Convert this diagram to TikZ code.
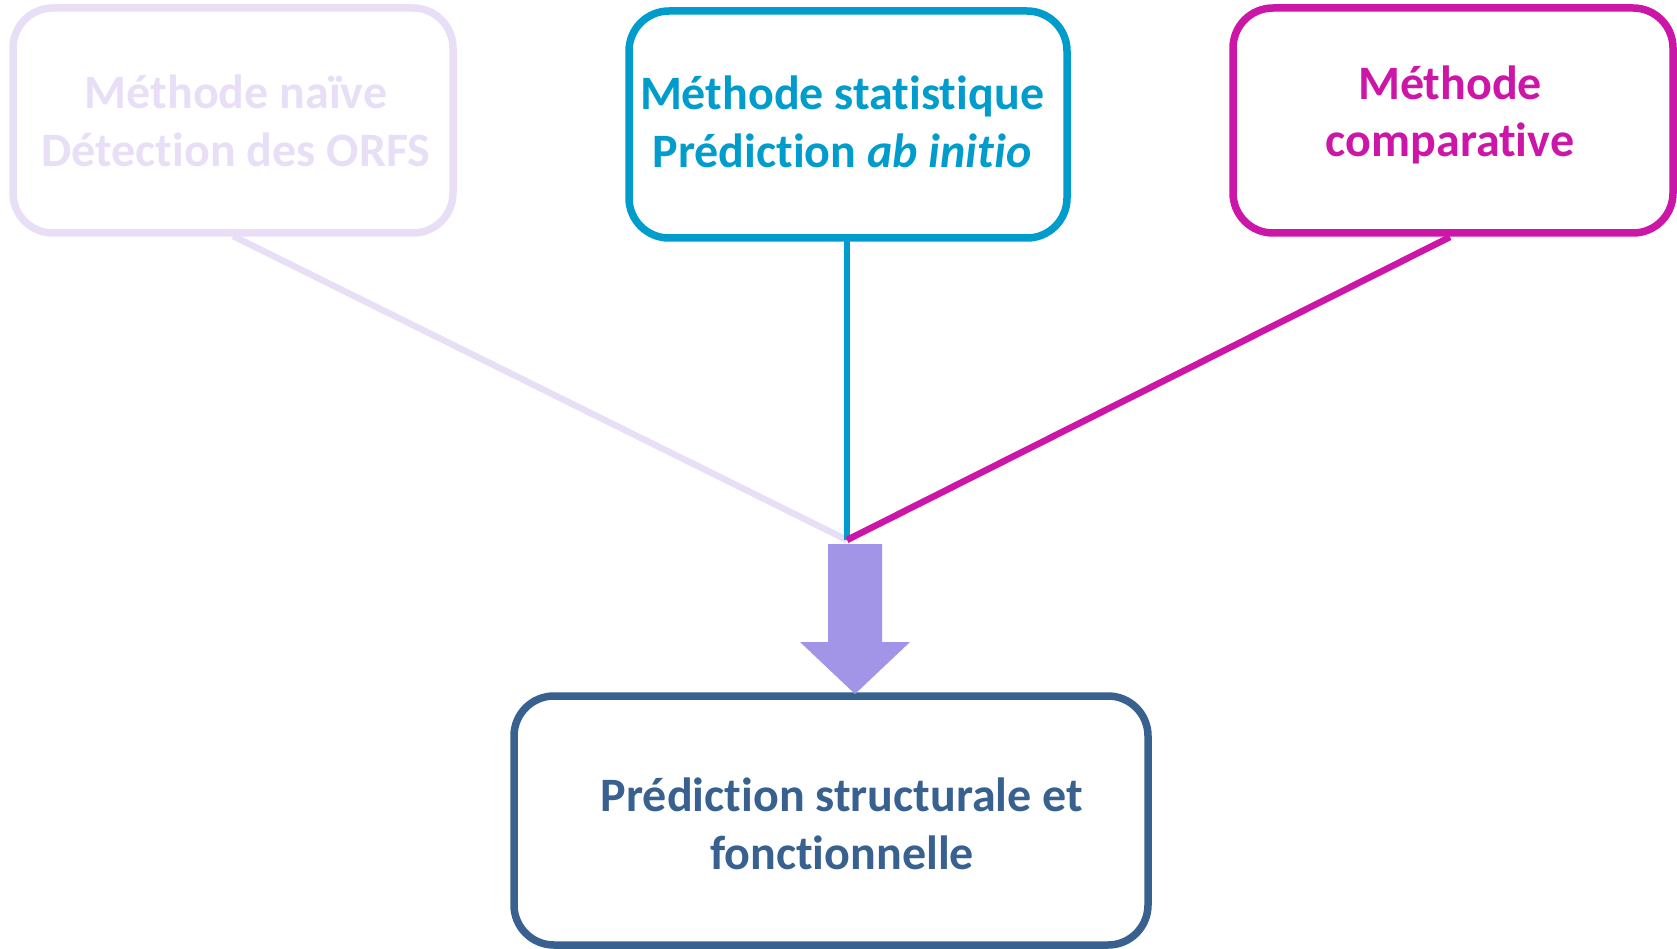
\documentclass[tikz,border=0pt]{standalone}
\usepackage{fontspec}
\setmainfont{Carlito}[Ligatures={NoCommon,NoRare,NoContextual}]
\definecolor{naive}{RGB}{232,223,246}
\definecolor{stat}{RGB}{0,157,204}
\definecolor{comp}{RGB}{204,22,168}
\definecolor{pred}{RGB}{56,97,143}
\definecolor{arrowfill}{RGB}{162,149,232}
\begin{document}
\begin{tikzpicture}[x=1pt,y=-1pt,
  box/.style={draw, line width=7.5pt, rounded corners=40pt, inner sep=0pt},
  lbl/.style={align=center, font=\fontsize{48}{57.5}\selectfont\bfseries},
  conn/.style={line width=6.5pt}]
\useasboundingbox (0,0) rectangle (1677,949);
% boxes
\draw[box, naive] (13,8) rectangle (453,233);
\draw[box, stat] (629,11) rectangle (1067,238);
\draw[box, comp] (1233,8) rectangle (1673,233);
\draw[box, pred] (514,696) rectangle (1148,945);
% anchor coordinates
\coordinate (b1) at (233,236);
\coordinate (b2) at (847,241);
\coordinate (b3) at (1450,237);
\coordinate (m) at (847,540);
% texts
\node[lbl, text=naive] (t1) at (236,121) {Méthode naïve\\Détection des ORFS};
\node[lbl, text=stat] (t2) at (842,122) {Méthode statistique\\Prédiction \textit{ab initio}};
\node[lbl, text=comp] (t3) at (1450,115) {Méthode\\comparative};
\node[lbl, text=pred] (t4) at (842,824) {Prédiction structurale et\\fonctionnelle};
% connectors
\draw[conn, naive] (b1) -- (m);
\draw[conn, stat, line cap=butt] (b2) -- (m);
\draw[conn, comp] (b3) -- (m);
% big arrow
\fill[arrowfill] (828,544) -- (882,544) -- (882,642) -- (910,642) -- (855,694) -- (800,642) -- (828,642) -- cycle;
\end{tikzpicture}
\end{document}
